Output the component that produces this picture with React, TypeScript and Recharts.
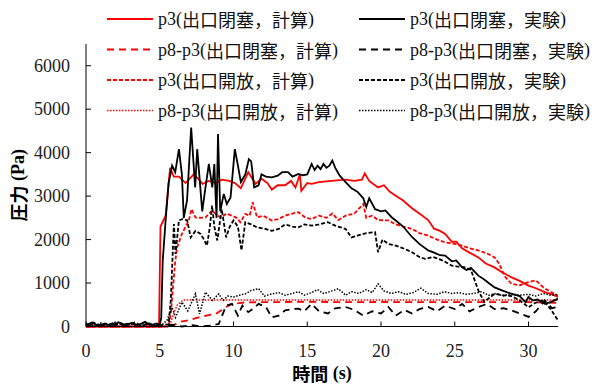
import React from 'react';
import { LineChart, Line, XAxis, YAxis } from 'recharts';

type Pt = [number, number];

// time (s), pressure (Pa)
const P3_CLOSED_CALC: Pt[] = [
  [0, 0], [4.95, 0], [5.05, 2300], [5.4, 2550], [5.7, 3650], [5.95, 3450], [6.3, 3450], [6.75, 3300],
  [7.3, 3500], [7.6, 3400], [7.9, 3280], [8.3, 3350], [8.8, 3300], [9.2, 3380], [9.7, 3350], [10.1, 3300],
  [10.5, 3180], [11.0, 3550], [11.5, 3280], [11.9, 3400], [12.3, 3300], [12.6, 3150], [13.0, 3250],
  [13.5, 3250], [13.9, 3350], [14.2, 3200], [14.5, 3500], [14.6, 3120], [15.0, 3300], [15.3, 3280],
  [15.8, 3320], [16.3, 3340], [17.0, 3360], [17.6, 3380], [18.2, 3350], [18.7, 3380], [18.9, 3520],
  [19.2, 3350], [19.8, 3200], [20.2, 3250], [20.6, 3100], [21.0, 3010], [21.5, 2900], [22.1, 2720],
  [22.6, 2600], [23.2, 2450], [23.6, 2250], [24.0, 2200], [24.35, 2130], [24.8, 1950], [25.1, 1950],
  [25.5, 1800], [26.0, 1700], [26.6, 1590], [27.1, 1450], [27.7, 1360], [28.2, 1250], [28.85, 1130],
  [29.4, 1050], [30.0, 940], [30.5, 880], [31.1, 790], [31.6, 740], [32.0, 680],
];

const P3_CLOSED_EXP: Pt[] = [
  [0, 30], [0.4, 90], [0.8, 20], [1.3, 70], [1.7, 10], [2.2, 100], [2.6, 30], [3.1, 80], [3.5, 20],
  [4.0, 110], [4.4, 30], [4.8, 70], [5.0, 30], [5.1, 200], [5.2, 1500], [5.4, 2450], [5.6, 3300],
  [5.84, 3700], [6.05, 3550], [6.3, 4080], [6.5, 3500], [6.63, 2500], [6.85, 2900], [7.13, 4580],
  [7.4, 3200], [7.54, 4080], [7.88, 2650], [8.1, 3200], [8.33, 3740], [8.56, 3200], [8.7, 3740],
  [8.85, 2500], [8.95, 4430], [9.1, 2650], [9.34, 3050], [9.55, 2820], [9.8, 2970], [10.09, 4080],
  [10.3, 3700], [10.5, 3320], [10.8, 3500], [11.04, 3850], [11.2, 3800], [11.4, 3200], [11.7, 3250],
  [11.9, 3500], [12.2, 3450], [12.6, 3430], [13.0, 3470], [13.3, 3550], [13.7, 3550], [14.0, 3450],
  [14.4, 3510], [14.7, 3480], [15.0, 3500], [15.3, 3740], [15.5, 3600], [15.7, 3700], [15.9, 3620],
  [16.1, 3740], [16.3, 3650], [16.5, 3700], [16.7, 3820], [16.9, 3650], [17.2, 3470], [17.6, 3320],
  [18.0, 3180], [18.4, 3100], [18.8, 2950], [19.0, 2750], [19.2, 2950], [19.6, 2700], [20.0, 2650],
  [20.3, 2670], [20.7, 2520], [21.0, 2440], [21.5, 2300], [22.1, 2060], [22.6, 1900], [23.2, 1750],
  [23.6, 1700], [24.0, 1640], [24.35, 1630], [24.8, 1500], [25.1, 1520], [25.5, 1360], [25.8, 1300],
  [26.1, 1350], [26.6, 1170], [27.0, 1080], [27.3, 1000], [27.7, 900], [28.2, 830], [28.85, 750],
  [29.4, 700], [29.8, 560], [30.0, 680], [30.3, 600], [30.6, 620], [31.1, 520], [31.5, 560], [32.0, 640],
];

const P8P3_CLOSED_CALC: Pt[] = [
  [0, 0], [5.5, 0], [5.9, 20], [6.3, 100], [7.0, 150], [7.7, 215], [8.3, 260], [8.8, 290], [9.2, 380],
  [9.5, 450], [9.9, 520], [10.4, 540], [10.8, 555], [12, 560], [14, 565], [16, 565], [18, 560], [20, 565],
  [22, 560], [24, 560], [26, 560], [28, 560], [30, 560], [32, 545],
];

const P8P3_CLOSED_EXP: Pt[] = [
  [0, 20], [0.6, 60], [1.2, 10], [1.8, 70], [2.4, 30], [3.0, 80], [3.6, 20], [4.2, 60], [4.8, 30],
  [5.3, 10], [5.8, 40], [6.5, 0], [7.2, 30], [7.8, 0], [8.4, 20], [9.0, 60], [9.5, 480], [9.9, 520],
  [10.3, 250], [10.6, 480], [11.0, 330], [11.3, 400], [11.7, 520], [12.2, 450], [12.6, 210], [13.07, 250],
  [13.5, 370], [14.0, 400], [14.4, 410], [14.8, 350], [15.3, 520], [15.8, 350], [16.4, 300], [16.9, 420],
  [17.6, 450], [18.2, 380], [18.8, 250], [19.4, 350], [20.0, 300], [20.5, 450], [21.0, 250], [21.6, 380],
  [22.1, 300], [22.6, 400], [23.2, 450], [23.8, 350], [24.35, 480], [25.0, 400], [25.5, 520], [26.0, 350],
  [26.6, 450], [27.2, 520], [27.7, 400], [28.3, 420], [28.85, 370], [29.4, 300], [30.0, 220], [30.5, 350],
  [31.1, 600], [31.6, 420], [32.0, 450],
];

const P3_OPEN_CALC: Pt[] = [
  [0, 0], [5.6, 0], [5.75, 300], [5.9, 900], [6.05, 1500], [6.18, 1820], [6.5, 2130], [6.97, 2440],
  [7.15, 2700], [7.42, 2510], [7.8, 2500], [8.1, 2510], [8.56, 2670], [8.9, 2550], [9.2, 2510], [9.5, 2600],
  [9.9, 2550], [10.2, 2500], [10.47, 2400], [10.8, 2590], [11.1, 2550], [11.3, 2860], [11.6, 2510],
  [12.0, 2550], [12.6, 2440], [13.07, 2475], [13.5, 2550], [14.0, 2600], [14.4, 2630], [14.9, 2500],
  [15.3, 2475], [15.8, 2550], [16.3, 2500], [16.7, 2600], [17.1, 2450], [17.6, 2550], [18.2, 2600],
  [18.8, 2820], [19.0, 2500], [19.4, 2550], [19.8, 2450], [20.5, 2440], [21.0, 2350], [21.5, 2300],
  [22.1, 2245], [22.6, 2150], [23.2, 2090], [23.8, 2000], [24.35, 1935], [25.0, 1900], [25.5, 1860],
  [26.0, 1800], [26.6, 1750], [27.2, 1680], [27.7, 1590], [28.0, 1450], [28.4, 1150], [28.85, 980],
  [29.4, 950], [30.0, 1020], [30.5, 1060], [31.0, 900], [31.5, 800], [32.0, 710],
];

const P3_OPEN_EXP: Pt[] = [
  [0, 40], [0.5, 90], [0.9, 20], [1.4, 60], [1.9, 10], [2.3, 80], [2.8, 30], [3.3, 90], [3.8, 20],
  [4.3, 70], [4.7, 10], [5.2, 40], [5.6, 50], [5.75, 600], [5.96, 2360], [6.07, 1670], [6.3, 2440],
  [6.57, 2475], [6.86, 2440], [7.1, 2050], [7.42, 2200], [7.77, 2130], [8.0, 2000], [8.2, 1860],
  [8.4, 2300], [8.55, 2780], [8.7, 2300], [8.9, 1980], [9.2, 2700], [9.5, 2050], [9.75, 2300],
  [10.0, 2440], [10.3, 2300], [10.54, 1750], [10.8, 2400], [11.2, 2350], [11.6, 2280], [12.1, 2250],
  [12.6, 2200], [13.07, 2245], [13.5, 2350], [14.0, 2300], [14.4, 2280], [14.8, 2350], [15.3, 2320],
  [15.8, 2350], [16.4, 2400], [16.9, 2320], [17.6, 2245], [18.0, 2050], [18.5, 2100], [19.0, 2150],
  [19.6, 2170], [19.8, 1710], [20.1, 2000], [20.5, 1900], [21.0, 1860], [21.5, 1800], [22.1, 1710],
  [22.6, 1600], [23.0, 1555], [23.5, 1600], [23.9, 1555], [24.3, 1500], [24.8, 1400], [25.2, 1380],
  [25.7, 1360], [26.1, 1300], [26.6, 830], [27.0, 560], [27.3, 650], [27.7, 750], [28.3, 720],
  [28.85, 700], [29.4, 600], [30.0, 445], [30.5, 550], [31.0, 600], [31.5, 400], [32.0, 140],
];

const P8P3_OPEN_CALC: Pt[] = [
  [0, 0], [5.6, 0], [5.8, 150], [6.0, 350], [6.2, 500], [6.6, 610], [7, 610], [10, 610], [15, 610],
  [20, 610], [25, 610], [30, 610], [32, 610],
];

const P8P3_OPEN_EXP: Pt[] = [
  [0, 60], [0.5, 10], [1.0, 80], [1.5, 30], [2.0, 100], [2.5, 20], [3.0, 70], [3.5, 10], [4.0, 90],
  [4.5, 30], [5.0, 60], [5.2, 50], [5.5, 150], [5.84, 440], [6.07, 210], [6.5, 560], [6.9, 360],
  [7.42, 750], [7.7, 290], [8.1, 790], [8.56, 600], [9.0, 750], [9.3, 600], [9.6, 700], [10.0, 680],
  [10.4, 720], [10.8, 750], [11.2, 830], [11.7, 870], [12.1, 700], [12.6, 750], [13.07, 780], [13.5, 720],
  [14.0, 760], [14.4, 800], [14.8, 720], [15.3, 780], [15.7, 850], [16.1, 760], [16.5, 800], [17.1, 870],
  [17.6, 720], [18.0, 800], [18.5, 760], [19.0, 850], [19.4, 780], [19.8, 980], [20.2, 820], [20.7, 760],
  [21.2, 800], [21.7, 740], [22.2, 780], [22.7, 880], [23.2, 760], [23.8, 740], [24.3, 800], [24.8, 760],
  [25.3, 780], [25.8, 740], [26.3, 760], [26.8, 800], [27.3, 720], [27.8, 760], [28.3, 700], [28.8, 760],
  [29.4, 720], [30.0, 740], [30.5, 700], [31.0, 760], [31.5, 720], [32.0, 740],
];

const X_TICKS = [0, 5, 10, 15, 20, 25, 30];
const Y_TICKS = [0, 1000, 2000, 3000, 4000, 5000, 6000];

const RED = '#ff0000';
const BLACK = '#000000';
const SERIF = "'Liberation Serif', 'DejaVu Serif', serif";
const CJK = "'Noto Sans CJK JP', sans-serif";

// col 0 = 計算, col 1 = 実験
const SERIES = [
  { key: 'p3cc', name: 'p3(出口閉塞，計算)', color: RED, dash: undefined, width: 1.8, data: P3_CLOSED_CALC, col: 0, row: 0 },
  { key: 'p83cc', name: 'p8-p3(出口閉塞，計算)', color: RED, dash: '7 5', width: 1.8, data: P8P3_CLOSED_CALC, col: 0, row: 1 },
  { key: 'p3oc', name: 'p3(出口開放，計算)', color: RED, dash: '4 2', width: 1.8, data: P3_OPEN_CALC, col: 0, row: 2 },
  { key: 'p83oc', name: 'p8-p3(出口開放，計算)', color: RED, dash: '1.5 1.5', width: 1.5, data: P8P3_OPEN_CALC, col: 0, row: 3 },
  { key: 'p3ce', name: 'p3(出口閉塞，実験)', color: BLACK, dash: undefined, width: 1.8, data: P3_CLOSED_EXP, col: 1, row: 0 },
  { key: 'p83ce', name: 'p8-p3(出口閉塞，実験)', color: BLACK, dash: '7 5', width: 1.8, data: P8P3_CLOSED_EXP, col: 1, row: 1 },
  { key: 'p3oe', name: 'p3(出口開放，実験)', color: BLACK, dash: '4 2', width: 1.8, data: P3_OPEN_EXP, col: 1, row: 2 },
  { key: 'p83oe', name: 'p8-p3(出口開放，実験)', color: BLACK, dash: '1.5 1.5', width: 1.5, data: P8P3_OPEN_EXP, col: 1, row: 3 },
];

const toRows = (pts: Pt[]) => pts.map(([t, v]) => ({ t, v }));

// latin runs in serif, CJK runs in gothic
const splitRuns = (s: string) => s.match(/[\u3000-\u9fff\uff00-\uffef]+|[^\u3000-\u9fff\uff00-\uffef]+/g) || [];
const isCjk = (s: string) => /[\u3000-\u9fff\uff00-\uffef]/.test(s);

const Mixed = ({ text }: { text: string }) => (
  <>
    {splitRuns(text).map((r, i) => (
      <tspan key={i} style={{ fontFamily: isCjk(r) ? CJK : SERIF }}>{r}</tspan>
    ))}
  </>
);

const YTick = (props: any) => {
  const { x, y, payload } = props;
  return (
    <g>
      <line x1={x} x2={x + 5} y1={y} y2={y} stroke="#000" strokeWidth={1} />
      <text x={x - 16} y={y} textAnchor="end" dominantBaseline="central" fontSize={18} style={{ fontFamily: SERIF }} fill="#222">
        {payload.value}
      </text>
    </g>
  );
};

const XTick = (props: any) => {
  const { x, y, payload } = props;
  return (
    <g>
      <line x1={x} x2={x} y1={y} y2={y - 5} stroke="#000" strokeWidth={1} />
      <text x={x} y={y + 24} textAnchor="middle" dominantBaseline="central" fontSize={18} style={{ fontFamily: SERIF }} fill="#222">
        {payload.value}
      </text>
    </g>
  );
};

function LegendOverlay() {
  const colX = [107, 359];
  const rowY = [19, 49.5, 80, 110.5];
  return (
    <svg width={595} height={130} style={{ position: 'absolute', left: 0, top: 0, pointerEvents: 'none' }}>
      {SERIES.map((s) => {
        const x = colX[s.col];
        const y = rowY[s.row];
        return (
          <g key={s.key}>
            <line x1={x} x2={x + 46} y1={y} y2={y} stroke={s.color} strokeWidth={s.width} strokeDasharray={s.dash} />
            <text x={x + 51} y={y} dominantBaseline="central" fontSize={18} fill="#111">
              <Mixed text={s.name} />
            </text>
          </g>
        );
      })}
    </svg>
  );
}

export default function App() {
  return (
    <div style={{ position: 'relative', width: 595, height: 387, background: '#fff', fontFamily: SERIF }}>
      <style>{`body{margin:0}`}</style>
      <LineChart width={595} height={387} margin={{ top: 44, right: 37, bottom: 0, left: 0 }}>
        <XAxis
          dataKey="t"
          type="number"
          domain={[0, 32]}
          ticks={X_TICKS}
          interval={0}
          allowDataOverflow
          height={60.5}
          tickSize={0}
          tickMargin={0}
          tick={<XTick />}
          axisLine={{ stroke: '#000', strokeWidth: 1 }}
          label={{
            content: (p: any) => {
              const vb = p.viewBox;
              return (
                <text x={vb.x + vb.width / 2} y={373} textAnchor="middle" dominantBaseline="central" fontSize={18} fontWeight="bold" fill="#000">
                  <Mixed text="時間 (s)" />
                </text>
              );
            },
          }}
        />
        <YAxis
          type="number"
          domain={[0, 6500]}
          ticks={Y_TICKS}
          interval={0}
          width={86}
          tickSize={0}
          tickMargin={0}
          tick={<YTick />}
          axisLine={{ stroke: '#000', strokeWidth: 1 }}
          label={{
            content: (p: any) => {
              const vb = p.viewBox;
              const cy = vb.y + vb.height / 2;
              return (
                <text x={18} y={cy} transform={`rotate(-90, 18, ${cy})`} textAnchor="middle" dominantBaseline="central" fontSize={18} fontWeight="bold" fill="#000">
                  <Mixed text="圧力 (Pa)" />
                </text>
              );
            },
          }}
        />
        {SERIES.map((s) => (
          <Line
            key={s.key}
            data={toRows(s.data)}
            dataKey="v"
            type="linear"
            stroke={s.color}
            strokeWidth={s.width}
            strokeDasharray={s.dash}
            dot={false}
            activeDot={false}
            isAnimationActive={false}
          />
        ))}
      </LineChart>
      <LegendOverlay />
    </div>
  );
}
